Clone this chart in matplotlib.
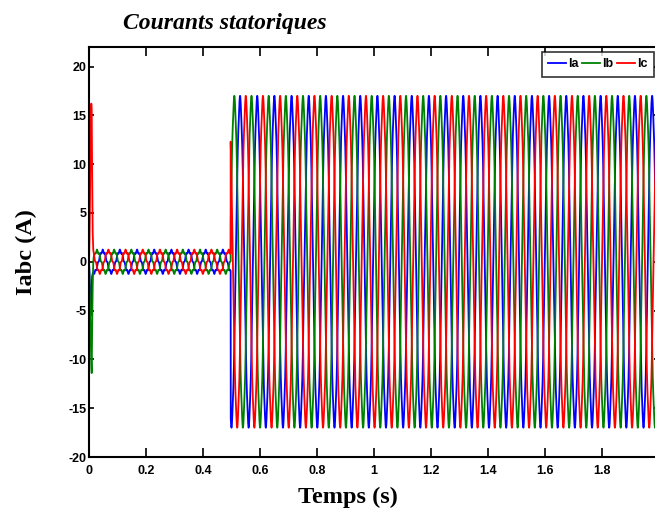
import numpy as np
import matplotlib
matplotlib.use("Agg")
from matplotlib import pyplot as plt

plt.rcParams["axes.unicode_minus"] = False

# values
freq = 16.6            # Hz, stator current frequency
t_peak_a = 0.530       # s, a positive peak of Ia
t_switch = 0.497       # s, load step
amp_small = 1.1        # A, before load step
amp_large = 16.7       # A, after load step
ripple_small = 0.15    # A
ripple_large = 0.3     # A
ripple_order = 7       # harmonic order of the ripple
t_end = 2.0

# start-up transient (read point by point)
t_tr = [0.0, 0.002, 0.004, 0.006, 0.008, 0.0095, 0.011, 0.013, 0.015, 0.017]
ia_tr = [0.0, -1.5, -4.0, -5.5, -4.0, -2.5, -1.5, -1.2, -1.1, -1.1]
ib_tr = [0.0, -2.0, -5.0, -8.5, -10.5, -11.4, -7.0, -2.5, 0.0, 0.6]
ic_tr = [0.0, 2.5, 8.0, 13.5, 16.2, 15.5, 9.0, 3.0, 1.2, 0.8]

labels = ["Ia", "Ib", "Ic"]
colors = ["#0000ff", "#008000", "#ff0000"]
# phase shift in fractions of a period (Ib peaks before Ia, Ic after)
shifts = [0.0, -1.0 / 3, 1.0 / 3]

xticks = np.arange(0, 2.01, 0.2)
xticklabels = ["0", "0.2", "0.4", "0.6", "0.8", "1", "1.2", "1.4", "1.6", "1.8", "2"]
yticks = np.arange(-20, 21, 5)

T = 1.0 / freq
t = np.arange(0.018, t_end, 1e-4)
amp = np.where(t < t_switch, amp_small, amp_large)
rip = np.where(t < t_switch, ripple_small, ripple_large)

tick_font = ["Liberation Sans", "DejaVu Sans"]

fig = plt.figure(figsize=(6.55, 5.16), dpi=100)
ax = fig.add_axes([89 / 655, 59 / 516, 570 / 655, 410 / 516])

for k, tr in enumerate([ia_tr, ib_tr, ic_tr]):
    tp = t_peak_a + shifts[k] * T
    y = amp * np.cos(2 * np.pi * freq * (t - tp)) \
        + rip * np.cos(2 * np.pi * ripple_order * freq * (t - tp))
    tt = np.concatenate([t_tr, t])
    yy = np.concatenate([tr, y])
    ax.plot(tt, yy, color=colors[k], lw=1.3, label=labels[k])

ax.set_xlim(0, t_end)
ax.set_ylim(-20, 22)
ax.set_xticks(xticks)
ax.set_xticklabels(xticklabels)
ax.set_yticks(yticks)
ax.tick_params(axis="x", direction="in", length=6.5, width=1.2, top=True, pad=6)
ax.tick_params(axis="y", direction="in", length=3.5, width=1.2, right=True, pad=2)
for lab in ax.get_xticklabels() + ax.get_yticklabels():
    lab.set_family(tick_font)
    lab.set_fontweight("bold")
    lab.set_fontsize(9)
for sp in ax.spines.values():
    sp.set_linewidth(1.5)

fig.text(225 / 655, 1 - 24 / 516, "Courants statoriques", ha="center", va="center",
         family="Liberation Serif", style="italic", weight="bold", fontsize=17)
fig.text(348 / 655, 1 - 497 / 516, "Temps (s)", ha="center", va="center",
         family="Liberation Serif", weight="bold", fontsize=17.5)
fig.text(26 / 655, 1 - 252 / 516, "Iabc (A)", ha="center", va="center", rotation=90,
         family="Liberation Serif", weight="bold", fontsize=17.5)

leg = ax.legend(loc="upper right", bbox_to_anchor=(654 / 655, 1 - 52 / 516),
                bbox_transform=fig.transFigure, ncol=3, frameon=True, fancybox=False,
                handlelength=1.4, handletextpad=0.2, columnspacing=0.3,
                borderpad=0.5, borderaxespad=0,
                prop={"family": tick_font, "weight": "bold", "size": 9})
leg.get_frame().set_edgecolor("black")
leg.get_frame().set_linewidth(1.2)

fig.savefig("out.png", dpi=100)
